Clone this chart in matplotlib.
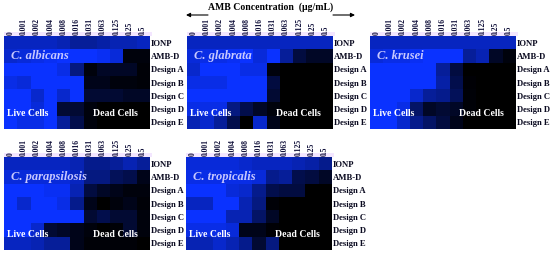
import numpy as np
import matplotlib.pyplot as plt
from matplotlib.colors import LinearSegmentedColormap
from matplotlib.patches import Rectangle

plt.rcParams['font.family'] = ['Liberation Serif', 'DejaVu Serif']

W, H = 550, 254

concentrations = ['0', '0.001', '0.002', '0.004', '0.008', '0.016', '0.031', '0.063', '0.125', '0.25', '0.5']
row_labels = ['IONP', 'AMB-D', 'Design A', 'Design B', 'Design C', 'Design D', 'Design E']

# fraction of live cells, read from the blue level of each cell
albicans = [
    [.75, .75, .75, .75, .70, .60, .60, .65, .70, .70, .75],
    [.80, .85, .90, .95, 1.0, 1.0, 1.0, .95, .85, .05, .05],
    [1.0, 1.0, 1.0, 1.0, .90, .50, .05, .15, .15, .15, .03],
    [.90, .85, 1.0, 1.0, 1.0, 1.0, .10, .10, .05, .05, .03],
    [1.0, 1.0, .80, 1.0, .80, 1.0, .20, .20, .20, .15, .15],
    [1.0, 1.0, .85, 1.0, .20, .20, .05, 0, 0, 0, 0],
    [1.0, .90, .90, 1.0, .60, .30, .05, 0, 0, 0, 0],
]
glabrata = [
    [.75, .75, .75, .75, .75, .75, .75, .75, .75, .75, .75],
    [.85, .90, .90, .95, 1.0, .85, 1.0, .60, .25, .15, .15],
    [.80, 1.0, 1.0, 1.0, .90, .90, .05, 0, 0, 0, 0],
    [.90, .90, .90, 1.0, 1.0, 1.0, .25, 0, 0, 0, 0],
    [1.0, 1.0, 1.0, 1.0, 1.0, 1.0, .20, 0, 0, 0, 0],
    [.90, .90, .90, .50, .30, .15, .05, 0, 0, 0, 0],
    [.70, .80, .60, .30, 0, .80, .10, 0, 0, 0, 0],
]
krusei = [
    [.75, .75, .75, .75, .75, .75, .75, .75, .75, .75, .75],
    [.85, .90, .90, .95, 1.0, 1.0, 1.0, .60, .70, .15, .05],
    [1.0, 1.0, 1.0, 1.0, 1.0, .60, .25, 0, 0, 0, 0],
    [1.0, 1.0, 1.0, 1.0, 1.0, .65, .30, .02, 0, 0, 0],
    [1.0, 1.0, 1.0, .80, .60, .55, .35, .03, 0, 0, 0],
    [1.0, 1.0, .90, .40, .15, .20, .15, .03, 0, 0, 0],
    [1.0, 1.0, .80, .55, .40, .25, .10, 0, 0, 0, 0],
]
parapsilosis = [
    [.75, .75, .75, .75, .75, .70, .55, .55, .60, .70, .60],
    [.85, .85, .85, .85, .85, .75, .50, .50, .35, .30, .10],
    [1.0, 1.0, 1.0, .95, .95, .70, .25, .15, .10, .05, .05],
    [1.0, .80, 1.0, 1.0, .90, .55, .10, 0, .05, .10, .03],
    [1.0, 1.0, 1.0, 1.0, 1.0, 1.0, .20, .30, .20, .20, .05],
    [1.0, 1.0, .80, .20, .15, .10, .05, 0, .03, .20, .05],
    [.75, .75, .70, .60, .60, .10, .03, .03, .03, .03, 0],
]
tropicalis = [
    [.85, .85, .85, .85, .80, .75, .75, .75, .70, .65, .55],
    [.90, .90, .90, .90, .90, .85, .55, .60, .30, .25, .15],
    [1.0, 1.0, 1.0, .85, .80, .55, .30, .25, .25, 0, 0],
    [.75, .75, 1.0, 1.0, .70, .50, .03, 0, 0, 0, 0],
    [1.0, 1.0, 1.0, .70, .70, .40, .15, 0, 0, 0, 0],
    [.90, .90, .90, .85, .10, .10, .02, 0, 0, 0, 0],
    [.70, .70, .80, .70, .55, .20, .50, 0, 0, 0, 0],
]

# name, data, left, top of heatmap in pixels
panels = [
    ('C. albicans', albicans, 4, 36),
    ('C. glabrata', glabrata, 187, 36),
    ('C. krusei', krusei, 370, 36),
    ('C. parapsilosis', parapsilosis, 4, 157),
    ('C. tropicalis', tropicalis, 186, 157),
]

cmap = LinearSegmentedColormap.from_list('live', ['#000000', '#0A32FF'])

fig = plt.figure(figsize=(W / 100, H / 100), dpi=100)

for name, data, left, top in panels:
    # pale strip behind the concentration labels
    fig.add_artist(Rectangle((left / W, 1 - top / H), 148 / W, 4 / H, transform=fig.transFigure,
                             facecolor='#f3e6ff', edgecolor='none', zorder=-1))

    ax = fig.add_axes([left / W, 1 - (top + 93) / H, 145.5 / W, 93 / H])
    ax.patch.set_visible(False)
    ax.imshow(np.array(data), cmap=cmap, vmin=0, vmax=1, aspect='auto', interpolation='nearest')

    ax.xaxis.tick_top()
    ax.yaxis.tick_right()
    ax.set_xticks(range(len(concentrations)))
    ax.set_xticklabels(concentrations, rotation=90, fontsize=5.5, fontweight='bold', color='#10103a')
    ax.set_yticks(range(len(row_labels)))
    ax.set_yticklabels(row_labels, fontsize=6.2, fontweight='bold', color='#0a0a20')
    ax.tick_params(length=0, pad=1)
    for s in ax.spines.values():
        s.set_visible(False)

    ax.text(0.05, 0.79, name, transform=ax.transAxes, color='#c8c8ff', fontsize=9,
            fontstyle='italic', fontweight='bold', va='center')
    ax.text(0.02, 0.165, 'Live Cells', transform=ax.transAxes, color='white', fontsize=7,
            fontweight='bold', va='center')
    ax.text(0.61, 0.165, 'Dead Cells', transform=ax.transAxes, color='white', fontsize=7,
            fontweight='bold', va='center')

fig.text(271 / W, 1 - 7 / H, 'AMB Concentration  (µg/mL)', ha='center', va='center',
         fontsize=7, fontweight='bold')
fig.add_artist(plt.Annotation('', xy=(186 / W, 1 - 15 / H), xytext=(208 / W, 1 - 15 / H),
                              xycoords='figure fraction', textcoords='figure fraction',
                              arrowprops=dict(arrowstyle='-|>', color='black', lw=0.8, mutation_scale=6,
                                              shrinkA=0, shrinkB=0)))
fig.add_artist(plt.Annotation('', xy=(355 / W, 1 - 15 / H), xytext=(333 / W, 1 - 15 / H),
                              xycoords='figure fraction', textcoords='figure fraction',
                              arrowprops=dict(arrowstyle='-|>', color='black', lw=0.8, mutation_scale=6,
                                              shrinkA=0, shrinkB=0)))

fig.savefig('out.png', dpi=100)
